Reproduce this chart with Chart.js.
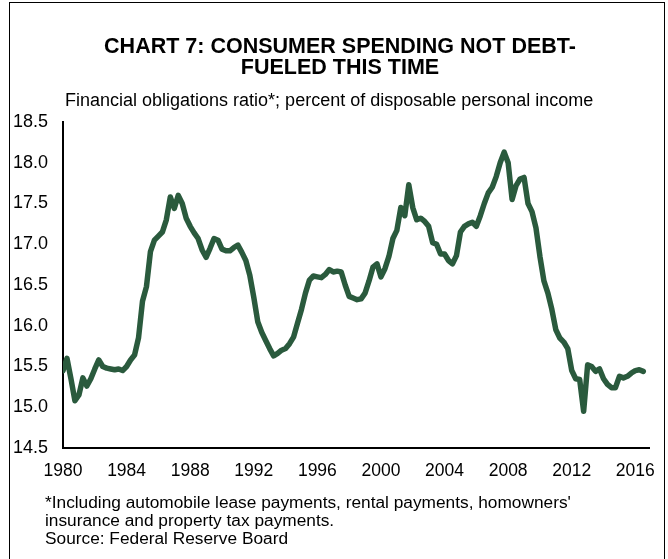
<!DOCTYPE html>
<html>
<head>
<meta charset="utf-8">
<script src="https://cdn.jsdelivr.net/npm/chart.js@4.4.1/dist/chart.umd.min.js"></script>
<style>
  html, body { margin: 0; padding: 0; background: #fff; }
  #wrap { position: relative; width: 668px; height: 559px; overflow: hidden; }
  #frame { position: absolute; left: 9px; top: 2px; width: 656px; height: 600px; border: 1px solid #000; box-sizing: border-box; }
  canvas { position: absolute; left: 0; top: 0; }
</style>
</head>
<body>
<div id="wrap">
  <div id="frame"></div>
  <canvas id="chart7" width="668" height="559"></canvas>
</div>
<script>
// Financial obligations ratio, quarterly from 1980 Q1
const startYear = 1980;
const ratio = [
  15.45, 15.60, 15.35, 15.08,  // 1980
  15.15, 15.36, 15.26, 15.35,  // 1981
  15.47, 15.58, 15.50, 15.48,  // 1982
  15.47, 15.46, 15.47, 15.45,  // 1983
  15.50, 15.58, 15.64, 15.85,  // 1984
  16.30, 16.48, 16.91, 17.05,  // 1985
  17.10, 17.15, 17.30, 17.58,  // 1986
  17.44, 17.60, 17.50, 17.32,  // 1987
  17.22, 17.14, 17.07, 16.93,  // 1988
  16.84, 16.95, 17.07, 17.05,  // 1989
  16.94, 16.92, 16.92, 16.96,  // 1990
  16.99, 16.90, 16.80, 16.62,  // 1991
  16.35, 16.05, 15.92, 15.82,  // 1992
  15.72, 15.63, 15.66, 15.70,  // 1993
  15.72, 15.78, 15.86, 16.03,  // 1994
  16.20, 16.40, 16.56, 16.61,  // 1995
  16.60, 16.59, 16.63, 16.69,  // 1996
  16.66, 16.67, 16.66, 16.50,  // 1997
  16.36, 16.34, 16.32, 16.33,  // 1998
  16.40, 16.55, 16.72, 16.76,  // 1999
  16.60, 16.70, 16.85, 17.07,  // 2000
  17.17, 17.45, 17.35, 17.73,  // 2001
  17.45, 17.30, 17.32, 17.28,  // 2002
  17.22, 17.02, 17.00, 16.88,  // 2003
  16.88, 16.80, 16.76, 16.86,  // 2004
  17.15, 17.22, 17.25, 17.27,  // 2005
  17.22, 17.35, 17.50, 17.63,  // 2006
  17.70, 17.83, 18.00, 18.13,  // 2007
  18.00, 17.55, 17.72, 17.80,  // 2008
  17.82, 17.50, 17.40, 17.20,  // 2009
  16.85, 16.55, 16.40, 16.20,  // 2010
  15.95, 15.85, 15.80, 15.72,  // 2011
  15.45, 15.35, 15.34, 14.95,  // 2012
  15.52, 15.50, 15.44, 15.47,  // 2013
  15.35, 15.28, 15.24, 15.24,  // 2014
  15.38, 15.36, 15.38, 15.42,  // 2015
  15.45, 15.46, 15.44          // 2016
];
const quarters = ratio.map((_, i) => startYear + i / 4);
const yearTicks = [1980, 1984, 1988, 1992, 1996, 2000, 2004, 2008, 2012, 2016];
const yTicks = [14.5, 15.0, 15.5, 16.0, 16.5, 17.0, 17.5, 18.0, 18.5];

const titleLines = ['CHART 7: CONSUMER SPENDING NOT DEBT-', 'FUELED THIS TIME'];
const subtitle = 'Financial obligations ratio*; percent of disposable personal income';
const notes = [
  "*Including automobile lease payments, rental payments, homowners'",
  'insurance and property tax payments.',
  'Source: Federal Reserve Board'
];

const FONT = '"Liberation Sans", Arial, sans-serif';

// titel, subjudul dan catatan kaki digambar sendiri supaya posisinya pas
const textPlugin = {
  id: 'texts',
  afterDraw(chart) {
    const c = chart.ctx;
    c.save();
    c.fillStyle = '#000';
    c.textBaseline = 'middle';
    c.textAlign = 'center';
    c.font = 'bold 21.5px ' + FONT;
    titleLines.forEach((t, i) => c.fillText(t, 340, 47.5 + i * 21));
    c.textAlign = 'left';
    c.font = '18px ' + FONT;
    c.fillText(subtitle, 65, 101.5);
    c.font = '17.3px ' + FONT;
    notes.forEach((t, i) => c.fillText(t, 45, 503 + i * 18));
    c.restore();
  }
};

new Chart(document.getElementById('chart7'), {
  type: 'line',
  data: {
    datasets: [{
      data: quarters.map((q, i) => ({ x: q, y: ratio[i] })),
      borderColor: '#2a5a3d',
      borderWidth: 5.5,
      borderJoinStyle: 'round',
      borderCapStyle: 'round',
      pointRadius: 0,
      tension: 0,
      fill: false
    }]
  },
  options: {
    responsive: false,
    animation: false,
    layout: { padding: { top: 122, right: 9, bottom: 71, left: 0 } },
    plugins: { legend: { display: false }, tooltip: { enabled: false } },
    scales: {
      x: {
        type: 'linear',
        min: 1980,
        max: 2016.875,
        afterBuildTicks: s => { s.ticks = yearTicks.map(v => ({ value: v })); },
        afterFit: s => { s.height = 40; },
        grid: { display: false, drawTicks: false },
        border: { color: '#000', width: 2 },
        ticks: { color: '#000', font: { family: FONT, size: 17.5 }, padding: 13, maxRotation: 0, callback: v => String(v) }
      },
      y: {
        min: 14.5,
        max: 18.5,
        afterBuildTicks: s => { s.ticks = yTicks.map(v => ({ value: v })); },
        afterFit: s => { s.width = 63; },
        grid: { display: false, drawTicks: false },
        border: { color: '#000', width: 2 },
        ticks: { color: '#000', font: { family: FONT, size: 18 }, padding: 15, callback: v => Number(v).toFixed(1) }
      }
    }
  },
  plugins: [textPlugin]
});
</script>
</body>
</html>
